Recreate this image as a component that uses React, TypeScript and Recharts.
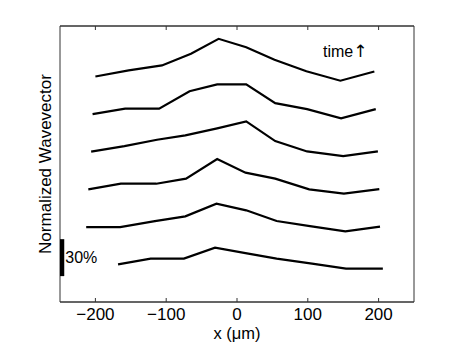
import React from 'react';
import { LineChart, Line, XAxis, YAxis, ReferenceArea } from 'recharts';

// x positions (µm) and normalized wavevector (%) for each time step, bottom to top
const t1X = [-168, -122, -75, -31, 12, 56, 106, 154, 206];
const t1Y = [30.6, 35.2, 35.2, 44.1, 39.7, 35.2, 31.1, 27.1, 27.1];

const t2X = [-213, -165, -116, -73, -29, 13, 56, 103, 153, 202];
const t2Y = [60.8, 60.8, 65.7, 69.5, 79.8, 74.4, 65.7, 61.6, 57.3, 61.2];

const t3X = [-210, -164, -114, -72, -28, 12, 54, 102, 151, 201];
const t3Y = [91.4, 96, 96, 100.1, 116, 105, 100.1, 91.4, 87.9, 91.6];

const t4X = [-206, -159, -113, -73, -28, 13, 54, 99, 150, 199];
const t4Y = [122, 126.5, 131.7, 135.2, 140.9, 146.6, 130.6, 122.2, 118.4, 122.2];

const t5X = [-204, -158, -110, -67, -28, 13, 54, 99, 147, 196];
const t5Y = [152.5, 156.9, 156.9, 171.1, 176.6, 176.6, 161.4, 156.5, 149, 156.5];

const t6X = [-200, -153, -106, -65, -26, 13, 53, 98, 146, 194];
const t6Y = [183, 188, 192, 201.5, 213.6, 206.8, 196.6, 187.3, 179.6, 187.1];

const xTicks = [-200, -100, 0, 100, 200];

const toRows = (xs: number[], ys: number[]) => xs.map((x, i) => ({ x, y: ys[i] }));
const series = [
  toRows(t1X, t1Y),
  toRows(t2X, t2Y),
  toRows(t3X, t3Y),
  toRows(t4X, t4Y),
  toRows(t5X, t5Y),
  toRows(t6X, t6Y),
];

const FONT = 'Helvetica, Arial, "Liberation Sans", sans-serif';
const AXIS = '#333';

const fmtTick = (v: number) => (v < 0 ? `\u2212${-v}` : `${v}`);

export default function App() {
  return (
    <div style={{ position: 'absolute', left: 0, top: 0, width: 457, height: 344, background: 'white', fontFamily: FONT }}>
      <LineChart width={457} height={344} margin={{ top: 25, right: 43, bottom: 0, left: 60 }}>
        <XAxis
          type="number"
          dataKey="x"
          domain={[-250, 250]}
          ticks={xTicks}
          allowDataOverflow
          height={42}
          stroke={AXIS}
          tickSize={-4}
          tickMargin={10}
          tickFormatter={fmtTick}
          tick={{ fill: '#000', fontSize: 17, fontFamily: FONT }}
        />
        <XAxis
          xAxisId="top"
          orientation="top"
          type="number"
          dataKey="x"
          domain={[-250, 250]}
          ticks={xTicks}
          allowDataOverflow
          height={1}
          stroke={AXIS}
          tickSize={-4}
          tickFormatter={() => ''}
        />
        <YAxis type="number" domain={[0, 224]} hide allowDataOverflow />

        {/* plot frame */}
        <ReferenceArea x1={-250} x2={250} y1={0} y2={224} fill="none" stroke={AXIS} strokeWidth={1} ifOverflow="visible" />

        {/* 30% scale bar */}
        <ReferenceArea
          x1={-250}
          x2={-244}
          y1={21}
          y2={51}
          fill="#000"
          fillOpacity={1}
          stroke="none"
          ifOverflow="visible"
          label={{ value: '30%', position: 'right', offset: 1, fill: '#000', fontSize: 16, fontFamily: FONT }}
        />

        {series.map((rows, i) => (
          <Line
            key={i}
            data={rows}
            dataKey="y"
            type="linear"
            stroke="#000"
            strokeWidth={2.2}
            dot={false}
            isAnimationActive={false}
          />
        ))}
      </LineChart>

      <svg width={457} height={344} style={{ position: 'absolute', left: 0, top: 0, pointerEvents: 'none' }}>
        <text
          x={51}
          y={164}
          transform="rotate(-90, 51, 164)"
          textAnchor="middle"
          fontSize={17}
          fontFamily={FONT}
          fill="#000"
        >
          Normalized Wavevector
        </text>
        <text x={237} y={338.5} textAnchor="middle" fontSize={16.5} fontFamily={FONT} fill="#000">
          x ({'\u03bc'}m)
        </text>
        <text x={323} y={57} fontSize={16} fontFamily={FONT} fill="#000">
          time<tspan fontFamily="'DejaVu Sans'" fontSize={17}>{'\u2191'}</tspan>
        </text>
      </svg>
    </div>
  );
}
